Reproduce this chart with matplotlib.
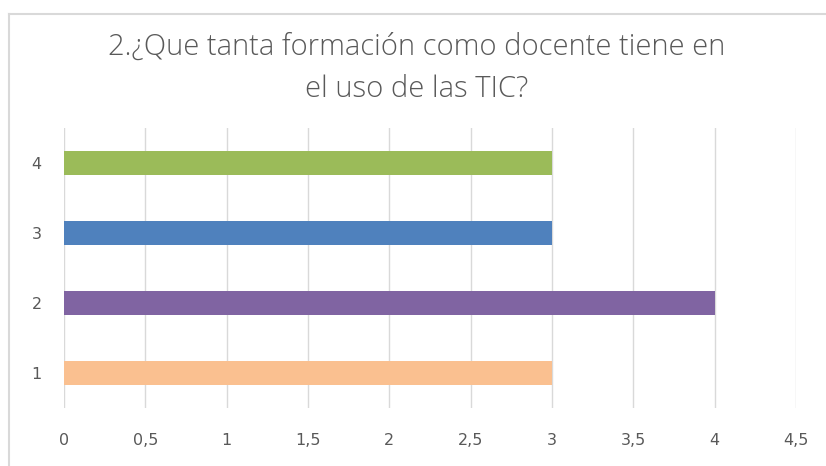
import matplotlib
matplotlib.use("Agg")
import matplotlib.pyplot as plt
from matplotlib.lines import Line2D

categories = ["1", "2", "3", "4"]
values = [3, 4, 3, 3]
colors = ["#FAC090", "#8064A2", "#4F81BD", "#9BBB59"]
xticks = [0, 0.5, 1, 1.5, 2, 2.5, 3, 3.5, 4, 4.5]
xticklabels = ["0", "0,5", "1", "1,5", "2", "2,5", "3", "3,5", "4", "4,5"]
title = "2.¿Que tanta formación como docente tiene en\nel uso de las TIC?"

W, H = 826, 466
fig = plt.figure(figsize=(W / 100, H / 100), dpi=100)
fig.patch.set_facecolor("white")

# chart border (top and left only visible)
bx, by = 8.5 / W, 1 - 13.5 / H
fig.lines.append(Line2D([bx, bx], [0, by], transform=fig.transFigure,
                        color="#d9d9d9", linewidth=1.5))
fig.lines.append(Line2D([bx, 1], [by, by], transform=fig.transFigure,
                        color="#d9d9d9", linewidth=1.5))

ax = fig.add_axes([64 / W, 1 - 408 / H, (796 - 64) / W, (408 - 128) / H])
ypos = list(range(len(categories)))
ax.barh(ypos, values, height=0.35, color=colors, zorder=3)
ax.set_xlim(0, 4.5)
ax.set_ylim(-0.5, 3.5)
ax.set_xticks(xticks)
ax.set_xticklabels(xticklabels)
ax.set_yticks(ypos)
ax.set_yticklabels(categories)
for s in ax.spines.values():
    s.set_visible(False)
ax.grid(axis="x", color="#d9d9d9", linewidth=1, zorder=0)
ax.tick_params(length=0, colors="#595959", labelsize=11.5)
ax.tick_params(axis="x", pad=18)
ax.tick_params(axis="y", pad=16)
for lab in ax.get_xticklabels() + ax.get_yticklabels():
    lab.set_fontfamily("DejaVu Sans")
    lab.set_color("#595959")

fig.text(417 / W, 1 - 68 / H, title, ha="center", va="center",
         fontsize=21, color="#595959", family="Open Sans",
         linespacing=1.55, fontweight="light")

fig.savefig("out.png", dpi=100)
